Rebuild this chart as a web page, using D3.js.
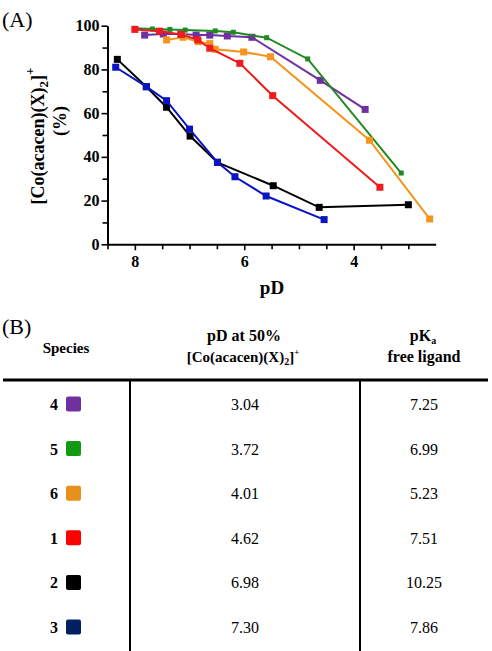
<!DOCTYPE html>
<html>
<head>
<meta charset="utf-8">
<script src="https://cdn.jsdelivr.net/npm/d3@7"></script>
<style>
  html, body { margin: 0; padding: 0; background: #fff; }
  svg { display: block; }
  text { font-family: "Liberation Serif", "Times New Roman", serif; }
</style>
</head>
<body>
<svg id="chart" width="492" height="651"></svg>
<script>
// ---------- Data: panel A ----------
const seriesNames = ["4", "5", "6", "1", "2", "3"];
const seriesColors = ["#7030a0", "#1f8a1f", "#f7941d", "#ee1c1c", "#000000", "#0a14c0"];
const series4 = [[7.82,95.7],[7.48,96.2],[7.16,96.2],[6.88,95.7],[6.63,95.7],[6.31,95.3],[5.86,94.7],[4.61,75.0],[3.79,61.7]];
const series5 = [[8.00,98.8],[7.68,98.5],[7.36,98.3],[7.08,98.0],[6.53,97.6],[6.20,97.0],[5.59,94.5],[4.84,84.8],[3.13,32.6]];
const series6 = [[7.42,93.5],[7.12,94.7],[6.84,92.7],[6.63,91.8],[6.53,89.2],[6.01,88.0],[5.52,85.8],[3.71,47.6],[2.61,11.6]];
const series1 = [[8.00,98.3],[7.55,97.5],[7.15,96.0],[6.85,93.5],[6.63,89.7],[6.08,82.8],[5.48,68.0],[3.52,26.1]];
const series2 = [[8.32,84.6],[7.79,72.1],[7.42,62.7],[6.99,49.5],[6.49,37.5],[5.47,26.8],[4.63,16.9],[3.00,18.1]];
const series3 = [[8.35,81.0],[7.79,72.1],[7.42,65.7],[7.00,52.7],[6.49,37.5],[6.17,30.9],[5.60,22.1],[4.54,11.3]];
const seriesData = [series4, series5, series6, series1, series2, series3];
const markerSizes = [7, 5, 7, 7, 7, 7];

const xMajorTicks = [8, 6, 4];
const xMinorTicks = [8.5, 7.5, 7, 6.5, 5.5, 5, 4.5, 3.5, 3];
const yMajorTicks = [0, 20, 40, 60, 80, 100];
const yMinorTicks = [10, 30, 50, 70, 90];

// ---------- Data: panel B ----------
const tableSpecies = ["4", "5", "6", "1", "2", "3"];
const tableColors = ["#7030a0", "#119a11", "#e8901a", "#ff0000", "#000000", "#002060"];
const pD50 = ["3.04", "3.72", "4.01", "4.62", "6.98", "7.30"];
const pKa = ["7.25", "6.99", "5.23", "7.51", "10.25", "7.86"];

// ---------- Drawing ----------
const svg = d3.select("#chart");

const x = d3.scaleLinear().domain([8.5, 2.5]).range([107.5, 435.7]);
const y = d3.scaleLinear().domain([0, 100]).range([244.3, 25.7]);

// panel label
svg.append("text").attr("x", 2).attr("y", 27).attr("font-size", 22).text("(A)");

// axes
function styleAxis(g) {
  g.selectAll("path.domain").attr("stroke", "#000").attr("stroke-width", 2);
  g.selectAll(".tick line").attr("stroke", "#000").attr("stroke-width", 1.6);
  g.selectAll(".tick text").attr("font-family", "Liberation Serif, serif")
    .attr("font-weight", "bold").attr("font-size", 16).attr("fill", "#000");
}
const xAxisG = svg.append("g").attr("transform", `translate(0,${y(0)})`)
  .call(d3.axisBottom(x).tickValues(xMajorTicks).tickSize(6).tickSizeOuter(0).tickPadding(5).tickFormat(d3.format("d")));
styleAxis(xAxisG);
const xMinorG = svg.append("g").attr("transform", `translate(0,${y(0)})`)
  .call(d3.axisBottom(x).tickValues(xMinorTicks).tickSize(5).tickSizeOuter(0).tickFormat(""));
styleAxis(xMinorG);
xMinorG.select("path.domain").remove();

const yAxisG = svg.append("g").attr("transform", `translate(${x(8.5)},0)`)
  .call(d3.axisLeft(y).tickValues(yMajorTicks).tickSize(6).tickSizeOuter(0).tickPadding(2).tickFormat(d3.format("d")));
styleAxis(yAxisG);
const yMinorG = svg.append("g").attr("transform", `translate(${x(8.5)},0)`)
  .call(d3.axisLeft(y).tickValues(yMinorTicks).tickSize(5).tickSizeOuter(0).tickFormat(""));
styleAxis(yMinorG);
yMinorG.select("path.domain").remove();

// axis titles
svg.append("text").attr("x", 272).attr("y", 294).attr("text-anchor", "middle")
  .attr("font-weight", "bold").attr("font-size", 19).text("pD");

const yTitle = svg.append("text").attr("transform", "translate(44,136) rotate(-90)")
  .attr("text-anchor", "middle").attr("font-weight", "bold").attr("font-size", 18);
yTitle.append("tspan").text("[Co(acacen)(X)");
yTitle.append("tspan").attr("font-size", 13).attr("dy", 4).text("2");
yTitle.append("tspan").attr("dy", -4).text("]");
yTitle.append("tspan").attr("font-size", 13).attr("dy", -10).text("+");
svg.append("text").attr("transform", "translate(66,121) rotate(-90)")
  .attr("text-anchor", "middle").attr("font-weight", "bold").attr("font-size", 18).text("(%)");

// series
const line = d3.line().x(d => x(d[0])).y(d => y(d[1]));
seriesData.forEach((data, i) => {
  const g = svg.append("g");
  g.append("path").datum(data).attr("d", line).attr("fill", "none")
    .attr("stroke", seriesColors[i]).attr("stroke-width", 2);
  const s = markerSizes[i];
  g.selectAll("rect").data(data).join("rect")
    .attr("x", d => x(d[0]) - s / 2).attr("y", d => y(d[1]) - s / 2)
    .attr("width", s).attr("height", s).attr("fill", seriesColors[i]);
});

// ---------- Panel B: table ----------
svg.append("text").attr("x", 2).attr("y", 334).attr("font-size", 22).text("(B)");
svg.append("text").attr("x", 66).attr("y", 353).attr("text-anchor", "middle")
  .attr("font-weight", "bold").attr("font-size", 15).text("Species");
svg.append("text").attr("x", 244).attr("y", 341).attr("text-anchor", "middle")
  .attr("font-weight", "bold").attr("font-size", 16).text("pD at 50%");
const h2 = svg.append("text").attr("x", 243).attr("y", 362).attr("text-anchor", "middle")
  .attr("font-weight", "bold").attr("font-size", 15);
h2.append("tspan").text("[Co(acacen)(X)");
h2.append("tspan").attr("font-size", 10).attr("dy", 3).text("2");
h2.append("tspan").attr("dy", -3).text("]");
h2.append("tspan").attr("font-size", 9).attr("dy", -7).text("+");
const h3 = svg.append("text").attr("x", 423).attr("y", 341).attr("text-anchor", "middle")
  .attr("font-weight", "bold").attr("font-size", 16);
h3.append("tspan").text("pK");
h3.append("tspan").attr("font-size", 10).attr("dy", 3).text("a");
svg.append("text").attr("x", 424).attr("y", 362).attr("text-anchor", "middle")
  .attr("font-weight", "bold").attr("font-size", 16).text("free ligand");

svg.append("line").attr("x1", 3).attr("x2", 488).attr("y1", 380).attr("y2", 380)
  .attr("stroke", "#000").attr("stroke-width", 3);
[130, 360].forEach(vx => {
  svg.append("line").attr("x1", vx).attr("x2", vx).attr("y1", 380).attr("y2", 651)
    .attr("stroke", "#000").attr("stroke-width", 2);
});

const rowY = d3.scalePoint().domain(tableSpecies).range([404, 627]);
tableSpecies.forEach((sp, i) => {
  const cy = rowY(sp);
  svg.append("text").attr("x", 58).attr("y", cy + 6).attr("text-anchor", "end")
    .attr("font-weight", "bold").attr("font-size", 16).text(sp);
  svg.append("rect").attr("x", 66).attr("y", cy - 7.5).attr("width", 15).attr("height", 15)
    .attr("rx", 2).attr("fill", tableColors[i]);
  svg.append("text").attr("x", 245).attr("y", cy + 6).attr("text-anchor", "middle")
    .attr("font-size", 16).text(pD50[i]);
  svg.append("text").attr("x", 424).attr("y", cy + 6).attr("text-anchor", "middle")
    .attr("font-size", 16).text(pKa[i]);
});
</script>
</body>
</html>
